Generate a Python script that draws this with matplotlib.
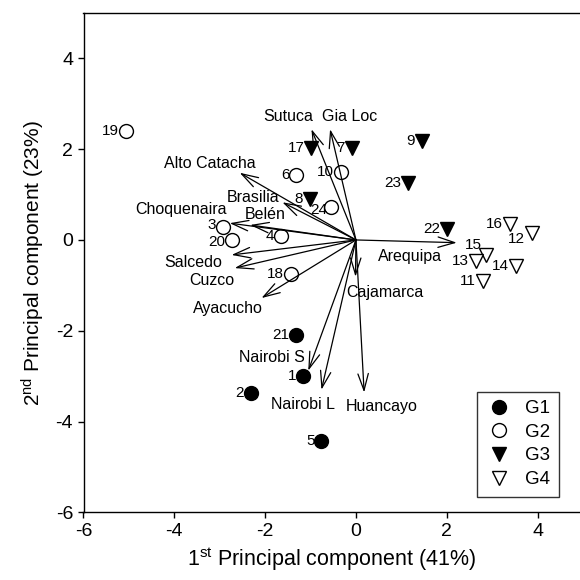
import matplotlib.pyplot as plt
import numpy as np

plt.rcParams['font.family'] = ['Liberation Sans', 'DejaVu Sans']
plt.rcParams['mathtext.default'] = 'regular'
plt.rcParams['axes.unicode_minus'] = False

# PCA scores per group
g1_id = [21, 1, 2, 5]
g1_x = [-1.32, -1.16, -2.32, -0.76]
g1_y = [-2.09, -3.00, -3.37, -4.42]

g2_id = [19, 6, 10, 24, 3, 20, 4, 18]
g2_x = [-5.07, -1.31, -0.33, -0.55, -2.92, -2.72, -1.66, -1.43]
g2_y = [2.41, 1.43, 1.50, 0.73, 0.29, 0.00, 0.08, -0.76]

g3_id = [17, 7, 9, 23, 8, 22]
g3_x = [-0.98, -0.09, 1.45, 1.15, -1.01, 2.00]
g3_y = [2.02, 2.02, 2.17, 1.25, 0.91, 0.24]

g4_id = [16, 12, 15, 13, 14, 11]
g4_x = [3.39, 3.87, 2.86, 2.64, 3.52, 2.79]
g4_y = [0.35, 0.15, -0.33, -0.46, -0.57, -0.90]

# loading vectors
var_names = ["Sutuca", "Gia Loc", "Alto Catacha", "Brasilia", "Choquenaira", "Belén",
             "Salcedo", "Cuzco", "Ayacucho", "Arequipa", "Cajamarca", "Nairobi S",
             "Nairobi L", "Huancayo"]
vec_x = [-0.98, -0.57, -2.56, -1.62, -2.78, -2.33, -2.74, -2.67, -2.08, 2.22, -0.01, -1.05, -0.76, 0.18]
vec_y = [2.44, 2.44, 1.48, 0.83, 0.37, 0.33, -0.33, -0.62, -1.28, -0.06, -0.81, -2.88, -3.30, -3.36]
lab_x = [-1.5, -0.13, -3.22, -2.26, -3.85, -2.0, -3.58, -3.18, -2.82, 1.19, 0.64, -1.86, -1.17, 0.57]
lab_y = [2.73, 2.73, 1.69, 0.94, 0.67, 0.55, -0.49, -0.90, -1.50, -0.37, -1.16, -2.59, -3.63, -3.66]

fig = plt.figure(figsize=(5.8, 5.8), dpi=100)
ax = fig.add_axes([83.5 / 580, 1 - 512.3 / 580, 1 - 83.5 / 580, (512.3 - 13) / 580])

for i in range(len(var_names)):
    ax.annotate("", xy=(vec_x[i], vec_y[i]), xytext=(0, 0),
                arrowprops=dict(arrowstyle="->,head_length=0.8,head_width=0.25",
                                lw=0.9, color="black", shrinkA=0, shrinkB=0,
                                mutation_scale=15))
    ax.text(lab_x[i], lab_y[i], var_names[i], fontsize=11.5, ha="center", va="center")

ms = 10
ax.plot(g1_x, g1_y, "o", ms=ms, mfc="black", mec="black", mew=1, label="G1")
ax.plot(g2_x, g2_y, "o", ms=ms, mfc="white", mec="black", mew=1, label="G2")
ax.plot(g3_x, g3_y, "v", ms=ms, mfc="black", mec="black", mew=1, label="G3")
ax.plot(g4_x, g4_y, "v", ms=ms, mfc="white", mec="black", mew=1, label="G4")

# special label offsets (points)
offsets = {15: (-3, 7), 12: (-5, -4), 24: (-3, -2), 3: (-5, 1.2), 20: (-5, -1.2)}
for ids, xs, ys in [(g1_id, g1_x, g1_y), (g2_id, g2_x, g2_y),
                    (g3_id, g3_x, g3_y), (g4_id, g4_x, g4_y)]:
    for n, x, y in zip(ids, xs, ys):
        off = offsets.get(n, (-5, 0))
        ax.annotate(str(n), (x, y), xytext=off, textcoords="offset points",
                    ha="right", va="center", fontsize=11)

ax.set_xlim(-6, (580 - 356) / 45.4)
ax.set_ylim(-6, 5)
ax.set_xticks(np.arange(-6, 5, 2))
ax.set_yticks(np.arange(-6, 5, 2))
ax.tick_params(direction="out", length=4, labelsize=14, width=1)
ax.spines["right"].set_visible(False)
for s in ["left", "bottom", "top"]:
    ax.spines[s].set_linewidth(1)

ax.set_xlabel("1$^{st}$ Principal component (41%)", fontsize=15.5, labelpad=4)
ax.set_ylabel("2$^{nd}$ Principal component (23%)", fontsize=15, labelpad=6)

leg = ax.legend(loc="upper left", bbox_to_anchor=(2.67, -3.34),
                bbox_transform=ax.transData, frameon=True, fancybox=False,
                edgecolor="black", fontsize=13.5, borderaxespad=0,
                handlelength=1.4, handletextpad=0.7, labelspacing=0.35,
                borderpad=0.45)
leg.get_frame().set_linewidth(1)

fig.savefig("out.png", dpi=100)
